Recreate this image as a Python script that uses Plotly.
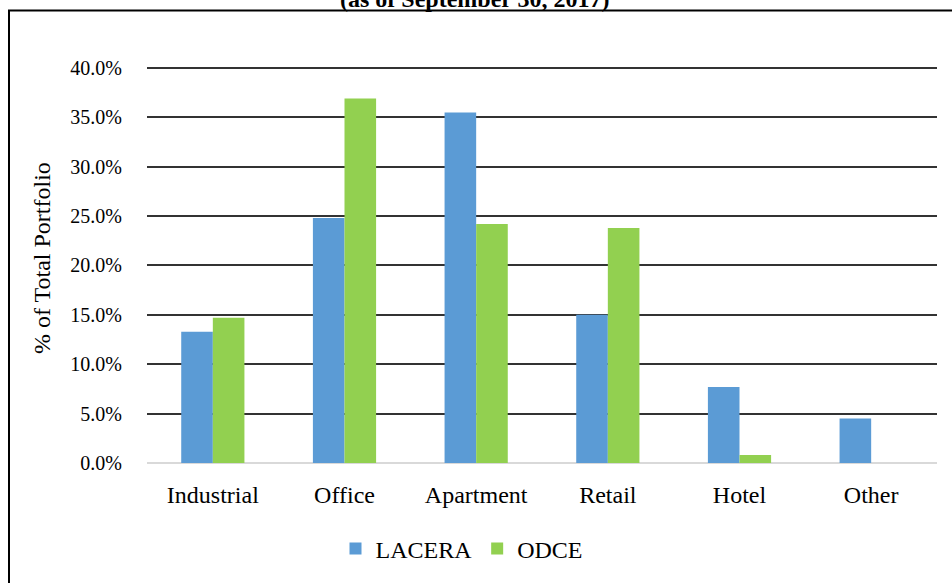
import plotly.graph_objects as go

categories = ["Industrial", "Office", "Apartment", "Retail", "Hotel", "Other"]
lacera = [13.3, 24.8, 35.5, 15.0, 7.7, 4.5]
odce = [14.7, 36.9, 24.2, 23.8, 0.8, 0.0]
y_ticks = [0, 5, 10, 15, 20, 25, 30, 35, 40]
y_tick_labels = [f"{v:.1f}%" for v in y_ticks]
title_text = "(as of September 30, 2017)"

W, H = 952, 583
L, R, T, B = 147, 15, 63, 120
pw, ph = W - L - R, H - T - B

def px_x(x):
    return (x - L) / pw

def px_y(y):
    return (H - B - y) / ph

FONT = "Times New Roman, Liberation Serif, serif"

fig = go.Figure()
fig.add_trace(go.Bar(x=categories, y=lacera, name="LACERA", marker_color="#5b9bd5",
                     marker_line_width=0))
fig.add_trace(go.Bar(x=categories, y=odce, name="ODCE", marker_color="#92d050",
                     marker_line_width=0))

fig.update_layout(
    width=W, height=H,
    margin=dict(l=L, r=R, t=T, b=B, pad=0),
    paper_bgcolor="white", plot_bgcolor="white",
    barmode="group", bargap=0.52, bargroupgap=0,
    font=dict(family=FONT, color="black"),
    showlegend=True,
    legend=dict(orientation="h", x=px_x(462), y=px_y(549), xanchor="center", yanchor="middle",
                font=dict(size=24, family=FONT), itemwidth=30, traceorder="normal"),
)
fig.update_xaxes(showgrid=False, showline=False, ticks="", tickfont=dict(size=24, family=FONT),
                 ticklabelstandoff=15, zeroline=False)
fig.update_yaxes(range=[0, 40.5], tickvals=y_ticks, ticktext=y_tick_labels,
                 showgrid=True, gridcolor="#333333", gridwidth=2,
                 zeroline=True, zerolinecolor="#d9d9d9", zerolinewidth=2,
                 showline=False, ticks="", tickfont=dict(size=20, family=FONT),
                 ticklabelstandoff=24)

fig.add_annotation(text="% of Total Portfolio", textangle=-90, xref="paper", yref="paper",
                   x=px_x(42), y=px_y(258), showarrow=False, xanchor="center", yanchor="middle",
                   font=dict(size=24, family=FONT))
fig.add_annotation(text="<b>" + title_text + "</b>", xref="paper", yref="paper",
                   x=px_x(475), y=px_y(-1), showarrow=False, xanchor="center", yanchor="middle",
                   font=dict(size=24, family=FONT))

fig.add_shape(type="rect", xref="paper", yref="paper",
              x0=px_x(9), x1=px_x(970), y0=px_y(600), y1=px_y(10.5),
              line=dict(color="black", width=2), fillcolor="rgba(0,0,0,0)", layer="below")

fig.write_html("out.html")
